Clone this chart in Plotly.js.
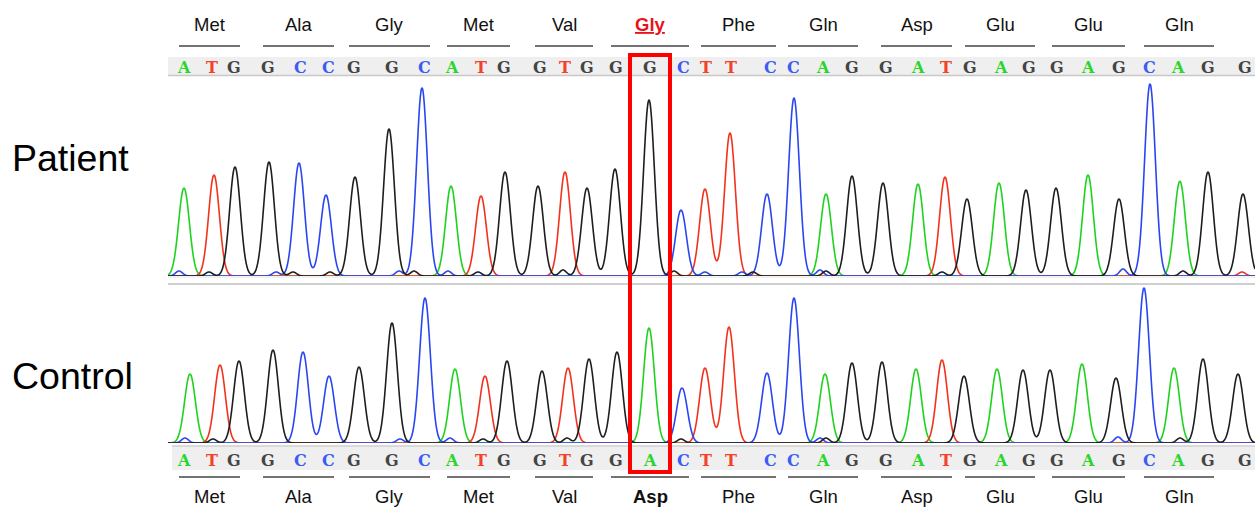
<!DOCTYPE html>
<html>
<head>
<meta charset="utf-8">
<script src="https://cdn.plot.ly/plotly-3.0.1.min.js"></script>
<style>html,body{margin:0;padding:0;background:#fff;}#chart{width:1255px;height:507px;}</style>
</head>
<body>
<div id="chart"></div>
<script>
// ---- data ----
const patientSeq = ["A","T","G","G","C","C","G","G","C","A","T","G","G","T","G","G","G","C","T","T","C","C","A","G","G","A","T","G","A","G","G","A","G","C","A","G","G"];
const controlSeq = ["A","T","G","G","C","C","G","G","C","A","T","G","G","T","G","G","A","C","T","T","C","C","A","G","G","A","T","G","A","G","G","A","G","C","A","G","G"];
const callPos = [184,212,234,268,300,328,354,392,424,452,481,504,540,565,587,616,650,683,706,731,770,793,823,852,886,918,946,970,1001,1029,1057,1088,1119,1149,1178,1208,1245];
const patientAmino = ["Met","Ala","Gly","Met","Val","Gly","Phe","Gln","Asp","Glu","Glu","Gln"];
const controlAmino = ["Met","Ala","Gly","Met","Val","Asp","Phe","Gln","Asp","Glu","Glu","Gln"];
const mutationIndex = 16;

const patientPeakPos = [184,214,235,269,299,326,355,389,422,451,481,505,538,565,587,615,649,681,705,730,767,794,826,852,883,918,945,967,999,1026,1056,1088,1119,1150,1180,1208,1243];
const patientPeakH   = [88,101,109,114,113,81,99,147,188,90,80,104,90,104,88,107,176,66,87,143,82,178,82,100,93,92,99,77,93,86,88,101,77,192,94,104,82];
const controlPeakPos = [190,220,239,273,303,329,359,392,425,455,485,507,542,568,589,617,649,682,705,729,767,794,825,852,882,916,942,964,997,1023,1050,1082,1116,1144,1174,1203,1238];
const controlPeakH   = [69,78,82,93,91,67,76,120,145,74,67,82,72,75,84,91,115,55,75,116,70,145,69,80,81,74,83,67,74,73,73,79,65,155,75,84,69];

// small background bumps
const patientMinorBase = ["C","C","C","C","G","G","G","G","G","G","G","C","C","C","C","G","G","G","G","T","A"];
const patientMinorPos  = [179,276,399,448,209,293,330,414,478,563,674,705,742,820,1123,753,826,942,1183,1242,1174];
const patientMinorH    = [5,4,5,5,4,4,4,5,4,6,5,4,4,6,7,4,5,4,5,4,3];
const controlMinorBase = ["C","C","C","G","G","G","G","C","C","G","G"];
const controlMinorPos  = [185,400,450,213,483,567,681,820,1118,826,1180];
const controlMinorH    = [5,4,5,4,4,5,4,5,6,5,5];

// ---- rendering ----
const W = 1255, H = 507;
const py = p => 1 - p / H;
const colors = {A:"#1fd21f", C:"#2a46f2", G:"#1e1e1e", T:"#f2321c"};
const letterColors = {A:"#2bd62b", C:"#3c5cf5", G:"#454545", T:"#f2432a"};
const SIG = 5.4;
const X0 = 168, X1 = 1255;
const xs = [];
for (let x = X0; x <= X1; x += 0.5) xs.push(x);

function channelTraces(seq, pos, hts, mBase, mPos, mH, yaxis) {
  const order = ["A","T","C","G"];
  return order.map(b => {
    const ys = xs.map(x => {
      let s = 0;
      for (let i = 0; i < seq.length; i++) {
        if (seq[i] !== b) continue;
        const d = x - pos[i];
        s += hts[i] * Math.exp(-d*d/(2*SIG*SIG));
      }
      for (let i = 0; i < mBase.length; i++) {
        if (mBase[i] !== b) continue;
        const d = x - mPos[i];
        s += mH[i] * Math.exp(-d*d/(2*3.5*3.5));
      }
      return s;
    });
    return {x: xs, y: ys, type: "scatter", mode: "lines", yaxis: yaxis,
            line: {color: colors[b], width: 1.6, shape: "spline"}, hoverinfo: "skip", showlegend: false};
  });
}

const data = [
  ...channelTraces(patientSeq, patientPeakPos, patientPeakH, patientMinorBase, patientMinorPos, patientMinorH, "y"),
  ...channelTraces(controlSeq, controlPeakPos, controlPeakH, controlMinorBase, controlMinorPos, controlMinorH, "y2")
];

const shapes = [];
const annotations = [];

// sequence bars
shapes.push({type:"rect", xref:"x", yref:"paper", x0:X0, x1:X1, y0:py(75), y1:py(57), fillcolor:"#efefef", line:{width:0}, layer:"below"});
shapes.push({type:"line", xref:"x", yref:"paper", x0:X0, x1:X1, y0:py(75.5), y1:py(75.5), line:{color:"#c8c8c8", width:1.5}});
shapes.push({type:"rect", xref:"x", yref:"paper", x0:X0+4, x1:X1, y0:py(470), y1:py(446), fillcolor:"#efefef", line:{width:0}, layer:"below"});
shapes.push({type:"line", xref:"x", yref:"paper", x0:X0+4, x1:X1, y0:py(446), y1:py(446), line:{color:"#d0d0d0", width:1.5}});
// divider between panels
shapes.push({type:"line", xref:"x", yref:"paper", x0:X0, x1:X1, y0:py(284), y1:py(284), line:{color:"#cfcfcf", width:2}});
shapes.push({type:"line", xref:"x", yref:"paper", x0:X0, x1:X1, y0:py(277), y1:py(277), line:{color:"#e4e4e4", width:1}});

// base letters
patientSeq.forEach((b, i) => {
  annotations.push({x: callPos[i], xref:"x", y: py(67), yref:"paper", text: "<b>"+b+"</b>", showarrow:false,
    font:{family:"DejaVu Serif", size:16, color:letterColors[b]}, xanchor:"center", yanchor:"middle"});
});
controlSeq.forEach((b, i) => {
  annotations.push({x: callPos[i], xref:"x", y: py(460), yref:"paper", text: "<b>"+b+"</b>", showarrow:false,
    font:{family:"DejaVu Serif", size:16, color:letterColors[b]}, xanchor:"center", yanchor:"middle"});
});

// codon lines & amino acid labels
patientAmino.forEach((aa, k) => {
  const a = callPos[3*k] - 5, c = callPos[3*k+2] + 6;
  const mid = (a + c) / 2;
  shapes.push({type:"line", xref:"x", yref:"paper", x0:a, x1:c, y0:py(46), y1:py(46), line:{color:"#444", width:1.3}});
  const isMut = (3*k <= mutationIndex && mutationIndex <= 3*k+2);
  annotations.push({x: mid, xref:"x", y: py(24), yref:"paper",
    text: isMut ? "<b><u>"+aa+"</u></b>" : aa, showarrow:false,
    font:{family:"Liberation Sans, Arial", size:18.5, color: isMut ? "#e8141a" : "#111"}, xanchor:"center", yanchor:"middle"});
});
controlAmino.forEach((aa, k) => {
  const a = callPos[3*k] - 5, c = callPos[3*k+2] + 6;
  const mid = (a + c) / 2;
  shapes.push({type:"line", xref:"x", yref:"paper", x0:a, x1:c, y0:py(477), y1:py(477), line:{color:"#444", width:1.3}});
  const isMut = (3*k <= mutationIndex && mutationIndex <= 3*k+2);
  annotations.push({x: mid, xref:"x", y: py(496), yref:"paper",
    text: isMut ? "<b>"+aa+"</b>" : aa, showarrow:false,
    font:{family:"Liberation Sans, Arial", size:18.5, color:"#111"}, xanchor:"center", yanchor:"middle"});
});

// red highlight box
shapes.push({type:"rect", xref:"x", yref:"paper", x0: callPos[mutationIndex]-20, x1: callPos[mutationIndex]+20,
  y0: py(472), y1: py(55), line:{color:"#ff0000", width:4}, fillcolor:"rgba(0,0,0,0)"});

// row labels
annotations.push({x: 70, xref:"x", y: py(158), yref:"paper", text:"Patient", showarrow:false,
  font:{family:"Liberation Sans, Arial", size:37.5, color:"#000"}, xanchor:"center", yanchor:"middle"});
annotations.push({x: 72, xref:"x", y: py(376), yref:"paper", text:"Control", showarrow:false,
  font:{family:"Liberation Sans, Arial", size:37.5, color:"#000"}, xanchor:"center", yanchor:"middle"});

const layout = {
  width: W, height: H,
  margin: {l:0, r:0, t:0, b:0, pad:0},
  paper_bgcolor: "#fff", plot_bgcolor: "rgba(0,0,0,0)",
  showlegend: false,
  xaxis: {range:[0, W], visible:false, fixedrange:true},
  yaxis: {domain:[py(276), py(76)], range:[0, 200], visible:false, fixedrange:true},
  yaxis2: {domain:[py(443), py(284)], range:[0, 159], visible:false, fixedrange:true},
  shapes: shapes,
  annotations: annotations
};

Plotly.newPlot("chart", data, layout, {displayModeBar:false, staticPlot:true});
</script>
</body>
</html>
